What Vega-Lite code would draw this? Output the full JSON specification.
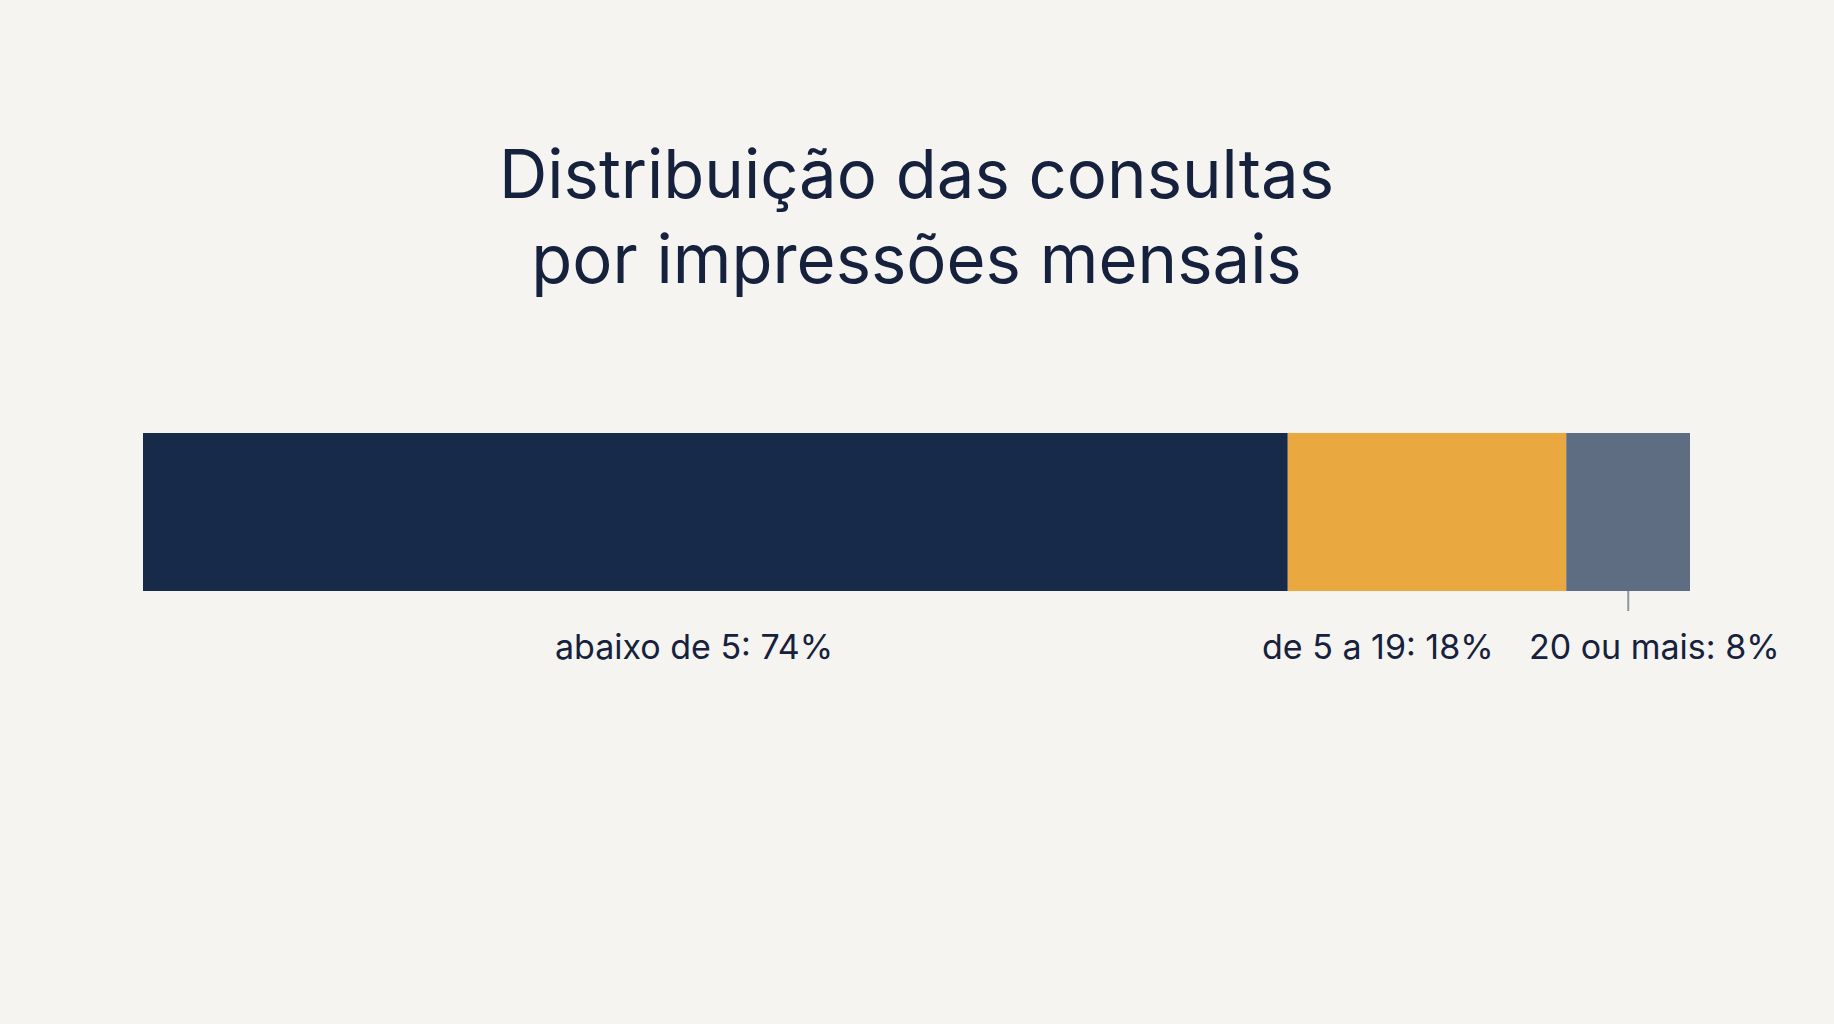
{
  "$schema": "https://vega.github.io/schema/vega-lite/v6.json",
  "autosize": "none",
  "width": 1547,
  "height": 158,
  "padding": {"left": 143, "right": 144, "top": 433, "bottom": 433},
  "background": "#f5f4f0",
  "config": {"view": {"stroke": null}, "font": "Inter"},
  "title": {
    "text": ["Distribuição das consultas", "por impressões mensais"],
    "anchor": "middle",
    "frame": "group",
    "fontSize": 67,
    "fontWeight": 400,
    "font": "Inter",
    "color": "#16223d",
    "lineHeight": 85,
    "offset": 136
  },
  "data": {
    "values": [
      {"row": "a", "ord": 1, "group": "abaixo de 5", "pct": 74, "label": "abaixo de 5: 74%"},
      {"row": "a", "ord": 2, "group": "de 5 a 19", "pct": 18, "label": "de 5 a 19: 18%"},
      {"row": "a", "ord": 3, "group": "20 ou mais", "pct": 8, "label": "20 ou mais: 8%"}
    ]
  },
  "transform": [
    {"stack": "pct", "groupby": ["row"], "sort": [{"field": "ord", "order": "ascending"}], "as": ["x0", "x1"]}
  ],
  "encoding": {
    "y": {"field": "row", "type": "nominal", "axis": null, "scale": {"paddingInner": 0, "paddingOuter": 0}}
  },
  "layer": [
    {
      "mark": {"type": "bar"},
      "encoding": {
        "x": {"field": "x0", "type": "quantitative", "axis": null, "scale": {"domain": [0, 100], "nice": false, "zero": true}},
        "x2": {"field": "x1"},
        "color": {
          "field": "group",
          "type": "nominal",
          "legend": null,
          "scale": {"domain": ["abaixo de 5", "de 5 a 19", "20 ou mais"], "range": ["#172a4a", "#e9a940", "#5e6d82"]}
        }
      }
    },
    {
      "transform": [{"filter": "datum.ord == 3"}],
      "mark": {"type": "tick", "orient": "vertical", "size": 20, "thickness": 2, "xOffset": 62, "yOffset": 89, "color": "#5e6d82"},
      "encoding": {"x": {"field": "x0", "type": "quantitative"}}
    },
    {
      "transform": [{"filter": "datum.ord == 1"}],
      "mark": {"type": "text", "align": "center", "baseline": "middle", "dx": 551, "dy": 137, "fontSize": 34, "color": "#16223d"},
      "encoding": {"x": {"field": "x0", "type": "quantitative"}, "text": {"field": "label"}}
    },
    {
      "transform": [{"filter": "datum.ord == 2"}],
      "mark": {"type": "text", "align": "center", "baseline": "middle", "dx": 90, "dy": 137, "fontSize": 34, "color": "#16223d"},
      "encoding": {"x": {"field": "x0", "type": "quantitative"}, "text": {"field": "label"}}
    },
    {
      "transform": [{"filter": "datum.ord == 3"}],
      "mark": {"type": "text", "align": "center", "baseline": "middle", "dx": 88, "dy": 137, "fontSize": 34, "color": "#16223d"},
      "encoding": {"x": {"field": "x0", "type": "quantitative"}, "text": {"field": "label"}}
    }
  ]
}
